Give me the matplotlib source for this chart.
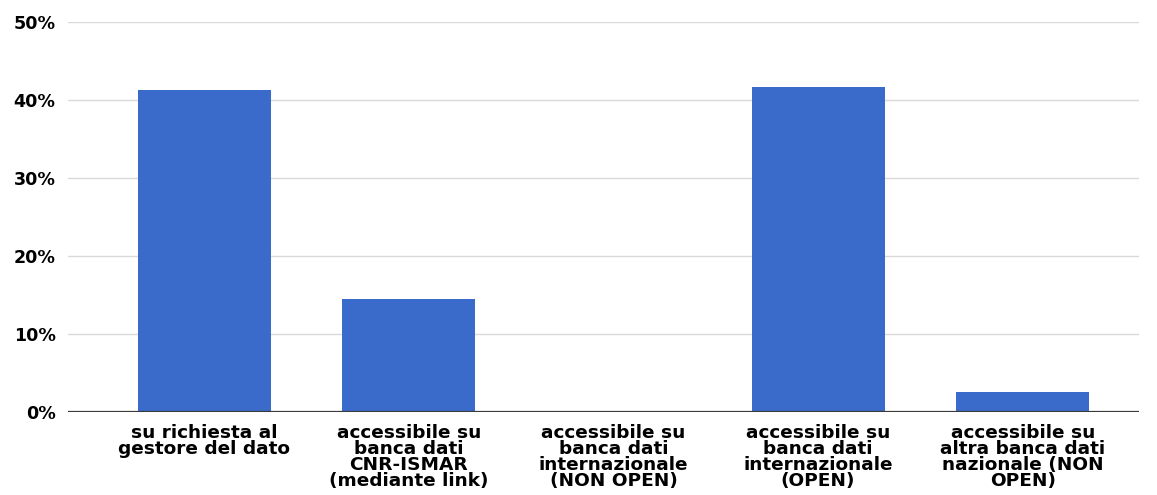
import matplotlib
matplotlib.use("Agg")
import matplotlib.pyplot as plt
from matplotlib.ticker import FuncFormatter

categories = [
    "su richiesta al\ngestore del dato",
    "accessibile su\nbanca dati\nCNR-ISMAR\n(mediante link)",
    "accessibile su\nbanca dati\ninternazionale\n(NON OPEN)",
    "accessibile su\nbanca dati\ninternazionale\n(OPEN)",
    "accessibile su\naltra banca dati\nnazionale (NON\nOPEN)",
]
values = [41.2, 14.5, 0.0, 41.7, 2.6]
yticks = [0, 10, 20, 30, 40, 50]

plt.rcParams['font.family'] = ['DejaVu Sans']

fig = plt.figure(figsize=(11.57, 4.95), dpi=100)
ax = fig.add_axes([0.0588, 0.168, 0.926, 0.788])

x = list(range(len(categories)))
ax.bar(x, values, width=0.65, color="#3A6BCB", zorder=3)

ax.set_ylim(0, 50)
ax.set_xlim(-0.665, 4.57)
ax.set_yticks(yticks)
ax.yaxis.set_major_formatter(FuncFormatter(lambda v, p: f"{int(v)}%"))
ax.grid(axis="y", color="#d9d9d9", linewidth=1.0, zorder=0)
ax.axhline(0, color="#3a3a3a", linewidth=1.6, zorder=4)

for s in ax.spines.values():
    s.set_visible(False)

ax.set_xticks(x)
ax.set_xticklabels(categories, fontsize=13.3, fontweight="bold", linespacing=0.86, va="top")
ax.tick_params(axis="x", length=0, pad=9)
ax.tick_params(axis="y", length=0, pad=9, labelsize=12.6)
for lbl in ax.get_yticklabels():
    lbl.set_fontweight("bold")

fig.savefig("out.png", dpi=100, facecolor="white")
